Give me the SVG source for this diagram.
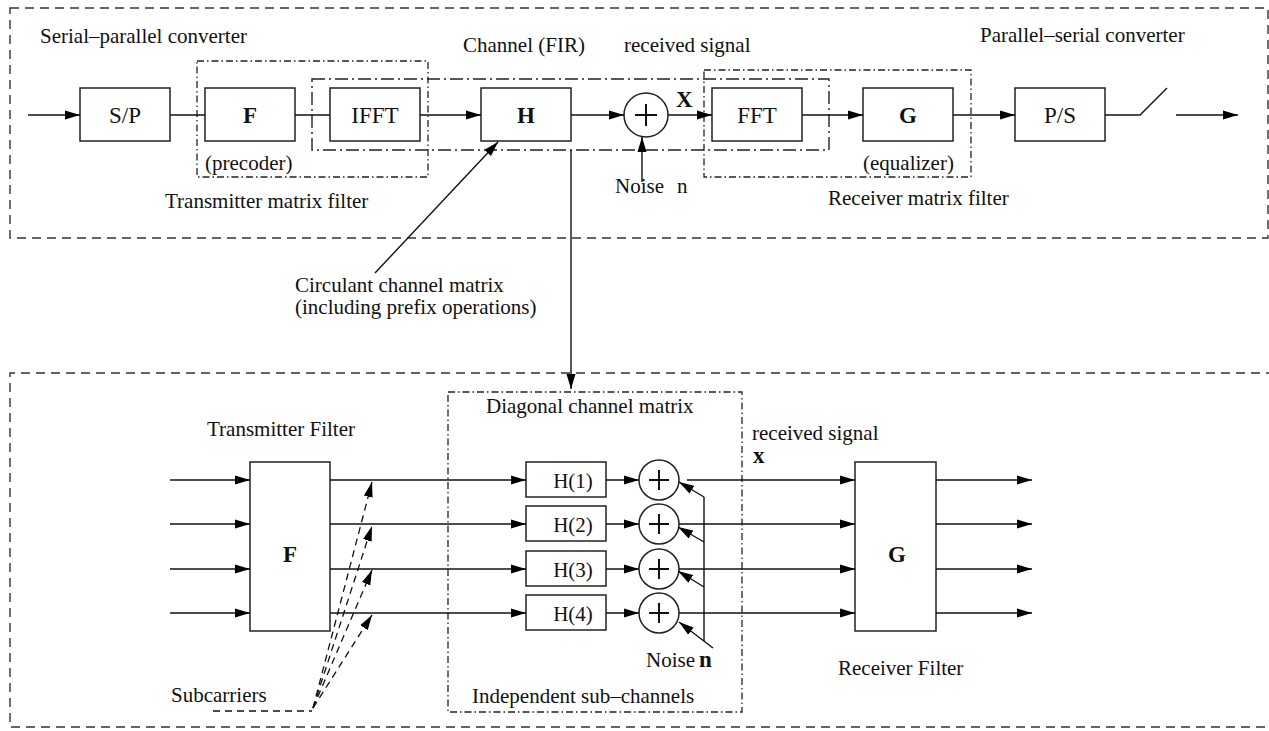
<svg xmlns="http://www.w3.org/2000/svg" width="1269" height="731" viewBox="0 0 1269 731">
<style>
text{font-family:"Liberation Serif","Times New Roman",serif;font-size:21px;fill:#111}
.b{font-weight:bold;font-size:23px}
.bx{font-size:23px}
.box{fill:#fff;stroke:#222;stroke-width:1.5}
.ln{fill:none;stroke:#111;stroke-width:1.4}
.dsh{fill:none;stroke:#333;stroke-width:1.4;stroke-dasharray:9,6}
.dd{fill:none;stroke:#222;stroke-width:1.3;stroke-dasharray:7,3,1.5,3}
.dd2{fill:none;stroke:#222;stroke-width:1.4;stroke-dasharray:13,4,2,4}
.sub{fill:none;stroke:#111;stroke-width:1.3;stroke-dasharray:7,5}
</style>
<defs>
<marker id="ah" markerUnits="userSpaceOnUse" markerWidth="16" markerHeight="10" refX="15" refY="5" orient="auto"><path d="M0,0.5 L15,5 L0,9.5 z" fill="#000"/></marker>
</defs>

<g id="frames">
<rect class="dsh" x="10" y="8" width="1258" height="230"/>
<path class="dsh" d="M1275,373 L10,373 L10,727 L1275,727"/>
<rect class="dd" x="197" y="61" width="231" height="116"/>
<rect class="dd2" x="312" y="79" width="517" height="71"/>
<rect class="dd" x="704" y="70" width="267" height="107"/>
<rect class="dd" x="448" y="392" width="294" height="320"/>
</g>

<g id="labels">
<text x="40" y="43">Serial–parallel converter</text>
<text x="463" y="52">Channel (FIR)</text>
<text x="624" y="52">received signal</text>
<text x="980" y="42">Parallel–serial converter</text>
<text x="205" y="170">(precoder)</text>
<text x="165" y="208">Transmitter matrix filter</text>
<text x="863" y="170">(equalizer)</text>
<text x="828" y="205">Receiver matrix  filter</text>
<text class="b" x="676" y="107">X</text>
<text x="615" y="193">Noise</text>
<text x="677" y="193">n</text>
<text x="295" y="292">Circulant channel matrix</text>
<text x="295" y="314">(including prefix operations)</text>
<text x="207" y="436">Transmitter Filter</text>
<text x="486" y="413">Diagonal  channel  matrix</text>
<text x="752" y="440">received signal</text>
<text class="b" x="753" y="463">x</text>
<text x="646" y="667">Noise</text>
<text class="b" x="699" y="667">n</text>
<text x="838" y="675">Receiver Filter</text>
<text x="171" y="702">Subcarriers</text>
<text x="472" y="703">Independent sub–channels</text>
</g>

<g id="sp"><rect class="box" x="80" y="88" width="90" height="53"/><text class="bx" x="125" y="123" text-anchor="middle">S/P</text></g>
<g id="F"><rect class="box" x="205" y="88" width="90" height="53"/><text class="b" x="250" y="123" text-anchor="middle">F</text></g>
<g id="ifft"><rect class="box" x="330" y="88" width="90" height="53"/><text class="bx" x="375" y="123" text-anchor="middle">IFFT</text></g>
<g id="H"><rect class="box" x="481" y="88" width="90" height="53"/><text class="b" x="526" y="123" text-anchor="middle">H</text></g>
<g id="sum"><circle class="box" cx="646" cy="115" r="22"/><path class="ln" d="M646,104 V126 M635,115 H657" style="stroke-width:2"/></g>
<g id="fft"><rect class="box" x="712" y="88" width="90" height="53"/><text class="bx" x="757" y="123" text-anchor="middle">FFT</text></g>
<g id="G"><rect class="box" x="863" y="88" width="90" height="53"/><text class="b" x="908" y="123" text-anchor="middle">G</text></g>
<g id="ps"><rect class="box" x="1015" y="88" width="90" height="53"/><text class="bx" x="1060" y="123" text-anchor="middle">P/S</text></g>

<g id="Fbig"><rect class="box" x="250" y="462" width="80" height="169"/><text class="b" x="290" y="562" text-anchor="middle">F</text></g>
<g id="Gbig"><rect class="box" x="855" y="462" width="81" height="169"/><text class="b" x="897" y="562" text-anchor="middle">G</text></g>
<g id="h1"><rect class="box" x="526" y="462" width="80" height="35"/><text x="573" y="488" text-anchor="middle">H(1)</text></g>
<g id="h2"><rect class="box" x="526" y="506" width="80" height="35"/><text x="573" y="532" text-anchor="middle">H(2)</text></g>
<g id="h3"><rect class="box" x="526" y="551" width="80" height="35"/><text x="573" y="577" text-anchor="middle">H(3)</text></g>
<g id="h4"><rect class="box" x="526" y="595" width="80" height="35"/><text x="573" y="621" text-anchor="middle">H(4)</text></g>
<g id="s1"><circle class="box" cx="659" cy="480" r="20"/><path class="ln" d="M659,470 V490 M649,480 H669" style="stroke-width:2"/></g>
<g id="s2"><circle class="box" cx="659" cy="524" r="20"/><path class="ln" d="M659,514 V534 M649,524 H669" style="stroke-width:2"/></g>
<g id="s3"><circle class="box" cx="659" cy="569" r="20"/><path class="ln" d="M659,559 V579 M649,569 H669" style="stroke-width:2"/></g>
<g id="s4"><circle class="box" cx="659" cy="613" r="20"/><path class="ln" d="M659,603 V623 M649,613 H669" style="stroke-width:2"/></g>

<g id="connectors">
<line class="ln" x1="28" y1="115" x2="80" y2="115" marker-end="url(#ah)"/>
<line class="ln" x1="170" y1="115" x2="205" y2="115"/>
<line class="ln" x1="295" y1="115" x2="330" y2="115"/>
<line class="ln" x1="420" y1="115" x2="481" y2="115" marker-end="url(#ah)"/>
<line class="ln" x1="571" y1="115" x2="624" y2="115" marker-end="url(#ah)"/>
<line class="ln" x1="668" y1="115" x2="712" y2="115" marker-end="url(#ah)"/>
<line class="ln" x1="802" y1="115" x2="863" y2="115" marker-end="url(#ah)"/>
<line class="ln" x1="953" y1="115" x2="1015" y2="115" marker-end="url(#ah)"/>
<path class="ln" d="M1105,115 H1140 L1167,88"/>
<line class="ln" x1="1176" y1="115" x2="1238" y2="115" marker-end="url(#ah)"/>
<line class="ln" x1="642" y1="182" x2="642" y2="137" marker-end="url(#ah)"/>
<line class="ln" x1="375" y1="273" x2="498" y2="142" marker-end="url(#ah)"/>
<line class="ln" x1="571" y1="150" x2="571" y2="389" marker-end="url(#ah)"/>

<line class="ln" x1="170" y1="480" x2="250" y2="480" marker-end="url(#ah)"/>
<line class="ln" x1="170" y1="524" x2="250" y2="524" marker-end="url(#ah)"/>
<line class="ln" x1="170" y1="569" x2="250" y2="569" marker-end="url(#ah)"/>
<line class="ln" x1="170" y1="613" x2="250" y2="613" marker-end="url(#ah)"/>
<line class="ln" x1="330" y1="480" x2="526" y2="480" marker-end="url(#ah)"/>
<line class="ln" x1="330" y1="524" x2="526" y2="524" marker-end="url(#ah)"/>
<line class="ln" x1="330" y1="569" x2="526" y2="569" marker-end="url(#ah)"/>
<line class="ln" x1="330" y1="613" x2="526" y2="613" marker-end="url(#ah)"/>
<line class="ln" x1="606" y1="480" x2="639" y2="480" marker-end="url(#ah)"/>
<line class="ln" x1="606" y1="524" x2="639" y2="524" marker-end="url(#ah)"/>
<line class="ln" x1="606" y1="569" x2="639" y2="569" marker-end="url(#ah)"/>
<line class="ln" x1="606" y1="613" x2="639" y2="613" marker-end="url(#ah)"/>
<line class="ln" x1="687" y1="480" x2="855" y2="480" marker-end="url(#ah)"/>
<line class="ln" x1="679" y1="524" x2="855" y2="524" marker-end="url(#ah)"/>
<line class="ln" x1="679" y1="569" x2="855" y2="569" marker-end="url(#ah)"/>
<line class="ln" x1="679" y1="613" x2="855" y2="613" marker-end="url(#ah)"/>
<line class="ln" x1="936" y1="480" x2="1032" y2="480" marker-end="url(#ah)"/>
<line class="ln" x1="936" y1="524" x2="1032" y2="524" marker-end="url(#ah)"/>
<line class="ln" x1="936" y1="569" x2="1032" y2="569" marker-end="url(#ah)"/>
<line class="ln" x1="936" y1="613" x2="1032" y2="613" marker-end="url(#ah)"/>

<path class="ln" d="M704,641 V497"/>
<line class="ln" x1="704" y1="497" x2="679" y2="482" marker-end="url(#ah)"/>
<line class="ln" x1="704" y1="542" x2="678" y2="527" marker-end="url(#ah)"/>
<line class="ln" x1="704" y1="587" x2="678" y2="571" marker-end="url(#ah)"/>
<line class="ln" x1="713" y1="648" x2="679" y2="622" marker-end="url(#ah)"/>

<line class="sub" x1="213" y1="711" x2="312" y2="711"/>
<line class="sub" x1="313" y1="708" x2="372" y2="482" marker-end="url(#ah)"/>
<line class="sub" x1="313" y1="708" x2="372" y2="526" marker-end="url(#ah)"/>
<line class="sub" x1="313" y1="708" x2="372" y2="570" marker-end="url(#ah)"/>
<line class="sub" x1="313" y1="708" x2="372" y2="615" marker-end="url(#ah)"/>
</g>
</svg>
